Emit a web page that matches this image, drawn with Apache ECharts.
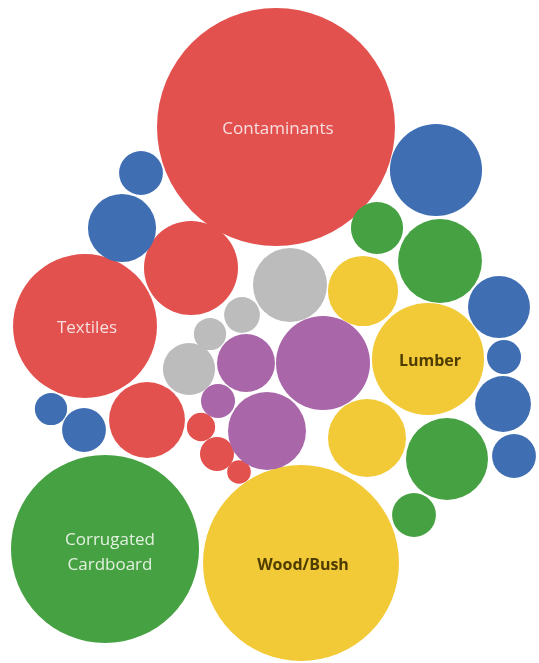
<!DOCTYPE html>
<html>
<head>
<meta charset="utf-8">
<script src="https://cdn.jsdelivr.net/npm/echarts@6/dist/echarts.min.js"></script>
<style>
  html, body { margin: 0; padding: 0; background: #ffffff; }
  #chart { width: 539px; height: 663px; }
</style>
</head>
<body>
<div id="chart"></div>
<script>
// Packed bubbles: each bubble is one waste stream, coloured by material group.
const bubbleLabel = [
  'Contaminants', 'Textiles', '', '', '', '', '',
  'Corrugated\nCardboard', '', '', '', '',
  'Wood/Bush', 'Lumber', '', '',
  '', '', '', '', '', '', '', '', '',
  '', '', '', '',
  '', '', '', ''
];
const bubbleGroup = [
  'red', 'red', 'red', 'red', 'red', 'red', 'red',
  'green', 'green', 'green', 'green', 'green',
  'yellow', 'yellow', 'yellow', 'yellow',
  'blue', 'blue', 'blue', 'blue', 'blue', 'blue', 'blue', 'blue', 'blue',
  'purple', 'purple', 'purple', 'purple',
  'gray', 'gray', 'gray', 'gray'
];
// Packed layout position of each bubble (layout units)
const bubbleX = [
  276, 85, 191, 147, 201, 217, 239,
  105, 377, 440, 447, 414,
  301, 428, 363, 367,
  141, 122, 51, 84, 436, 499, 504, 503, 514,
  323, 246, 267, 218,
  290, 242, 210, 189
];
const bubbleY = [
  127, 326, 268, 420, 427, 454, 472,
  549, 228, 261, 459, 515,
  563, 359, 291, 438,
  173, 228, 409, 430, 170, 307, 357, 404, 456,
  363, 363, 431, 401,
  285, 315, 334, 369
];
// Quantity per stream (bubble area is proportional to it)
const bubbleValue = [
  1416, 518, 221, 144, 20, 29, 14,
  884, 68, 176, 168, 48,
  960, 314, 123, 152,
  48, 116, 26, 48, 212, 96, 29, 78, 48,
  221, 84, 152, 29,
  137, 32, 26, 68
];

const groupOrder = ['red', 'green', 'yellow', 'blue', 'purple', 'gray'];
const groupColor = {
  red: '#e3514f', green: '#45a141', yellow: '#f2c937',
  blue: '#3f6eb3', purple: '#a966a9', gray: '#bdbcbc'
};
const labelColor = {
  red: '#f6dede', green: '#e3f1e0', yellow: '#4e3c00',
  blue: '#ffffff', purple: '#ffffff', gray: '#ffffff'
};
const boldGroups = { yellow: true };

// radius in pixels from value: area proportional to value
const sizeFromValue = v => 2 * Math.sqrt(v * 10);

const series = groupOrder.map(g => {
  const data = [];
  bubbleGroup.forEach((grp, i) => {
    if (grp === g) {
      const multiLine = bubbleLabel[i].indexOf('\n') >= 0;
      data.push({
        value: [bubbleX[i], bubbleY[i], bubbleValue[i]],
        name: bubbleLabel[i],
        label: { offset: multiLine ? [5, 4] : [2, 2] }
      });
    }
  });
  return {
    type: 'scatter',
    name: g,
    data: data,
    symbol: 'circle',
    symbolSize: val => sizeFromValue(val[2]),
    itemStyle: { color: groupColor[g], opacity: 1 },
    emphasis: { disabled: true },
    label: {
      show: true,
      position: 'inside',
      formatter: p => p.name,
      color: labelColor[g],
      fontFamily: 'Open Sans',
      fontSize: boldGroups[g] ? 16 : 17,
      fontWeight: boldGroups[g] ? 'bold' : 'normal',
      lineHeight: 25
    }
  };
});

const chart = echarts.init(document.getElementById('chart'), null, { renderer: 'canvas' });
chart.setOption({
  animation: false,
  backgroundColor: '#ffffff',
  grid: { left: 0, right: 0, top: 0, bottom: 0 },
  xAxis: { type: 'value', min: 0, max: 539, show: false },
  yAxis: { type: 'value', min: 0, max: 663, inverse: true, show: false },
  series: series
});
</script>
</body>
</html>
